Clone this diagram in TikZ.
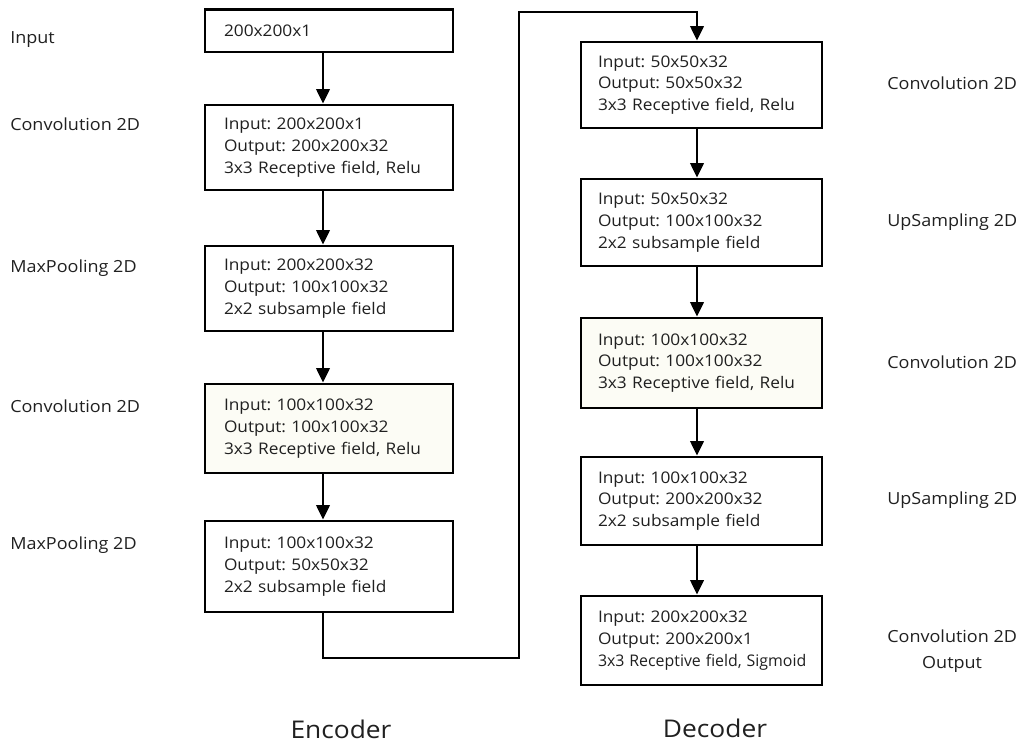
\documentclass[tikz,border=0pt]{standalone}
\usepackage{fontspec}
\setmainfont{Open Sans}[FakeStretch=1.08]
\usetikzlibrary{arrows.meta}
\definecolor{ink}{RGB}{32,32,32}
\definecolor{cream}{RGB}{252,252,245}
\frenchspacing
\begin{document}
\begin{tikzpicture}[x=0.75pt,y=-0.75pt,
  txt/.style={text=ink,font=\fontsize{12}{16.3}\selectfont,inner sep=0pt},
  blk/.style={draw=black,line width=2pt,fill=white,txt,align=left,inner ysep=0pt},
  enc/.style={blk,minimum width=186pt,text width=157.5pt,inner xsep=14.25pt},
  dec/.style={blk,minimum width=180.75pt,text width=155.25pt,inner xsep=12.75pt},
  lbl/.style={txt,anchor=west,font=\fontsize{12.5}{19}\selectfont},
  ttl/.style={text=ink,font=\fontsize{18.3}{21}\selectfont,inner sep=0pt},
  link/.style={line width=2.2pt,draw=black},
  arr/.style={link,-{Triangle[width=10pt,length=11pt]}}]
\useasboundingbox (0,0) rectangle (1021,746);

% arrow axes of the two columns
\coordinate (ax) at (323,0);
\coordinate (dx) at (697,0);

% encoder column
\node[enc,minimum height=32pt] (e0) at (329,30.5) {200x200x1};
\node[enc,minimum height=63.75pt] (e1) at (329,147.5) {Input: 200x200x1\\Output: 200x200x32\\3x3 Receptive field, Relu};
\node[enc,minimum height=63.75pt] (e2) at (329,288.5) {Input: 200x200x32\\Output: 100x100x32\\2x2 subsample field};
\node[enc,minimum height=66.75pt,fill=cream] (e3) at (329,428.5) {Input: 100x100x32\\Output: 100x100x32\\3x3 Receptive field, Relu};
\node[enc,minimum height=68.25pt] (e4) at (329,566.5) {Input: 100x100x32\\Output: 50x50x32\\2x2 subsample field};

% decoder column
\node[dec,minimum height=64.5pt] (d0) at (701.5,85) {Input: 50x50x32\\Output: 50x50x32\\3x3 Receptive field, Relu};
\node[dec,minimum height=65.25pt] (d1) at (701.5,222.5) {Input: 50x50x32\\Output: 100x100x32\\2x2 subsample field};
\node[dec,minimum height=67.5pt,fill=cream] (d2) at (701.5,363) {Input: 100x100x32\\Output: 100x100x32\\3x3 Receptive field, Relu};
\node[dec,minimum height=66pt] (d3) at (701.5,501) {Input: 100x100x32\\Output: 200x200x32\\2x2 subsample field};
\node[dec,minimum height=66.75pt] (d4) at (701.5,640.5) {Input: 200x200x32\\Output: 200x200x1\\\scalebox{0.92}[1]{3x3 Receptive field, Sigmoid}};

% encoder arrows
\draw[arr] (e0.south -| ax) -- (e1.north -| ax);
\draw[arr] (e1.south -| ax) -- (e2.north -| ax);
\draw[arr] (e2.south -| ax) -- (e3.north -| ax);
\draw[arr] (e3.south -| ax) -- (e4.north -| ax);

% bridge from encoder to decoder
\coordinate (b1) at (519,658);
\coordinate (b2) at (519,12);
\draw[arr,line join=miter] (e4.south -| ax) |- (b1) -- (b2) -| (d0.north -| dx);

% decoder arrows
\draw[arr] (d0.south -| dx) -- (d1.north -| dx);
\draw[arr] (d1.south -| dx) -- (d2.north -| dx);
\draw[arr] (d2.south -| dx) -- (d3.north -| dx);
\draw[arr] (d3.south -| dx) -- (d4.north -| dx);

% layer names, encoder side
\node[lbl] (l0) at (10,40) {Input};
\node[lbl] (l1) at (10,124) {Convolution 2D};
\node[lbl] (l2) at (10,268) {MaxPooling 2D};
\node[lbl] (l3) at (10,406) {Convolution 2D};
\node[lbl] (l4) at (10,545) {MaxPooling 2D};

% layer names, decoder side
\node[lbl] (r0) at (887,83) {Convolution 2D};
\node[lbl] (r1) at (887,222) {UpSampling 2D};
\node[lbl] (r2) at (887,362) {Convolution 2D};
\node[lbl] (r3) at (887,500) {UpSampling 2D};
\node[lbl,align=center] (r4) at (887,651) {Convolution 2D\\Output};

% column titles
\node[ttl] (tenc) at (341,729) {Encoder};
\node[ttl] (tdec) at (715,728) {Decoder};
\end{tikzpicture}
\end{document}
